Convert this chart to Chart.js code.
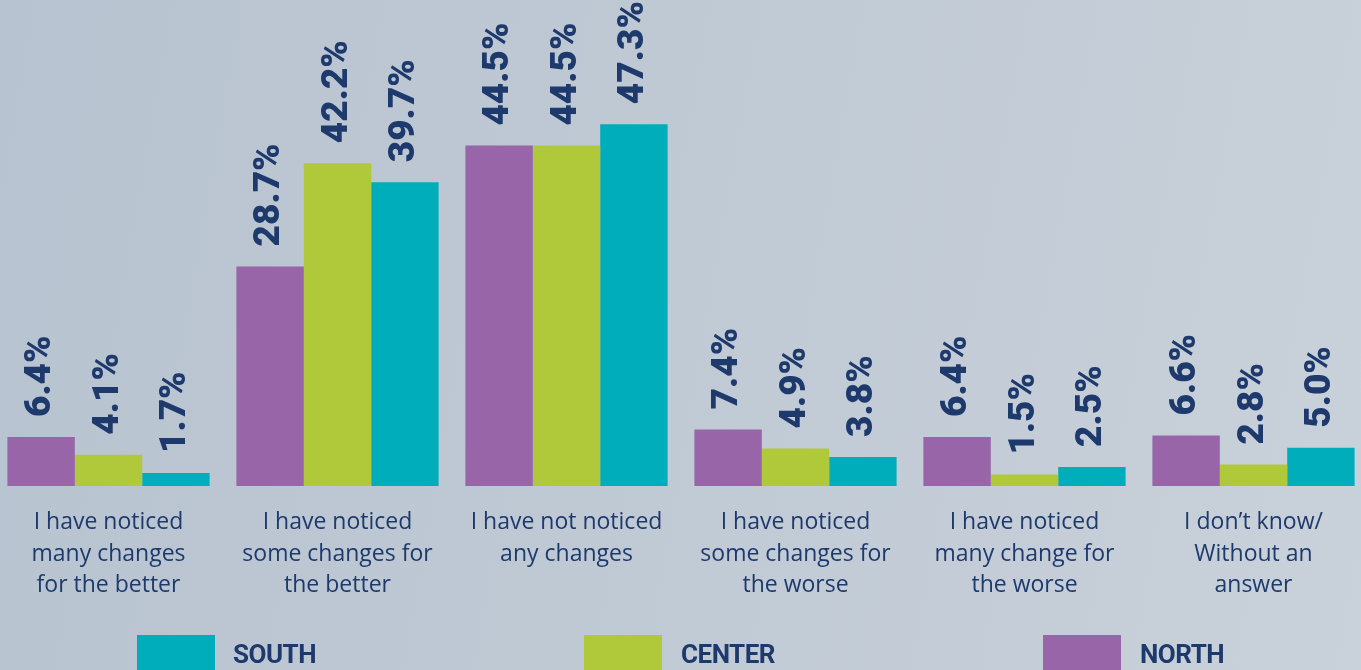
<!DOCTYPE html>
<html>
<head>
<meta charset="utf-8">
<script src="https://cdn.jsdelivr.net/npm/chart.js@4/dist/chart.umd.min.js"></script>
<style>
  html, body { margin: 0; padding: 0; width: 1361px; height: 670px; overflow: hidden; }
  body { background: linear-gradient(100deg, #b7c3d0 0%, #bfc9d4 45%, #c9d1da 100%); position: relative; font-family: Roboto, sans-serif; }
  #wrap { position: absolute; left: -6px; top: 0; width: 1374px; height: 670px; }
  .sw { position: absolute; top: 635px; width: 78px; height: 40px; }
  .lt { position: absolute; top: 640px; font: 700 26px Roboto, sans-serif; color: #1e3a6d; letter-spacing: -0.5px; line-height: 28px; }
</style>
</head>
<body>
<div id="wrap"><canvas id="c" width="1374" height="670"></canvas></div>
<div class="sw" style="left:137px;background:#00adba"></div><div class="lt" style="left:233px">SOUTH</div>
<div class="sw" style="left:584px;background:#b0c93a"></div><div class="lt" style="left:681px">CENTER</div>
<div class="sw" style="left:1043px;background:#9765a8"></div><div class="lt" style="left:1140px">NORTH</div>
<script>
const categories = [
  ["I have noticed", "many changes", "for the better"],
  ["I have noticed", "some changes for", "the better"],
  ["I have not noticed", "any changes"],
  ["I have noticed", "some changes for", "the worse"],
  ["I have noticed", "many change for", "the worse"],
  ["I don\u2019t know/", "Without an", "answer"]
];
const north  = [6.4, 28.7, 44.5, 7.4, 6.4, 6.6];
const center = [4.1, 42.2, 44.5, 4.9, 1.5, 2.8];
const south  = [1.7, 39.7, 47.3, 3.8, 2.5, 5.0];
const seriesNames = ["NORTH", "CENTER", "SOUTH"];
const colors = ["#9765a8", "#b0c93a", "#00adba"];

const valueLabels = {
  id: 'valueLabels',
  afterDatasetsDraw(chart) {
    const ctx = chart.ctx;
    ctx.save();
    ctx.fillStyle = '#1e3a6d';
    ctx.font = '900 37px Roboto, sans-serif';
    ctx.textAlign = 'left';
    ctx.textBaseline = 'middle';
    chart.data.datasets.forEach((ds, i) => {
      const meta = chart.getDatasetMeta(i);
      meta.data.forEach((bar, j) => {
        ctx.save();
        ctx.translate(bar.x, bar.y - 20);
        ctx.rotate(-Math.PI / 2);
        ctx.fillText(ds.data[j].toFixed(1) + '%', 0, 0);
        ctx.restore();
      });
    });
    ctx.restore();
  }
};

new Chart(document.getElementById('c'), {
  type: 'bar',
  data: {
    labels: categories,
    datasets: [
      { label: seriesNames[0], data: north, backgroundColor: colors[0] },
      { label: seriesNames[1], data: center, backgroundColor: colors[1] },
      { label: seriesNames[2], data: south, backgroundColor: colors[2] }
    ]
  },
  options: {
    responsive: false,
    animation: false,
    events: [],
    layout: { padding: { top: 27, left: 0, right: 0, bottom: 0 } },
    datasets: { bar: { categoryPercentage: 0.883, barPercentage: 1.0, borderWidth: 0 } },
    plugins: { legend: { display: false }, tooltip: { enabled: false } },
    scales: {
      x: {
        grid: { display: false },
        border: { display: false },
        ticks: {
          color: '#1e3a6d',
          font: { family: '"Open Sans", sans-serif', size: 23, weight: '400', lineHeight: 1.39 },
          padding: 12,
          maxRotation: 0,
          autoSkip: false
        },
        afterFit(s) { s.height = 184; }
      },
      y: { display: false, min: 0, max: 60 }
    }
  },
  plugins: [valueLabels]
});
</script>
</body>
</html>
